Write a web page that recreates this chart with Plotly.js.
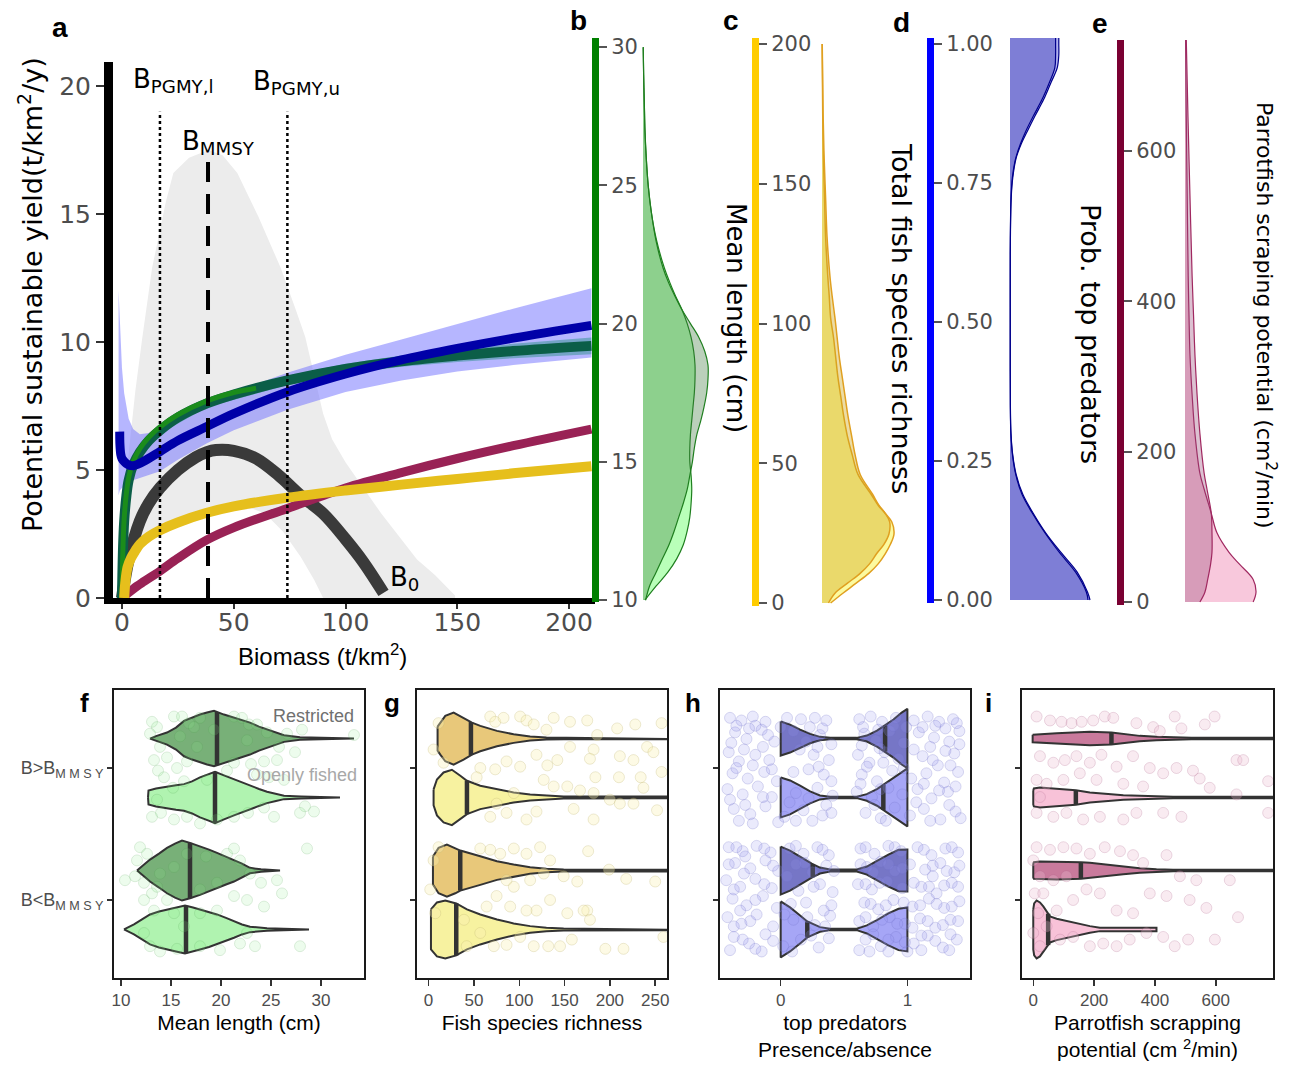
<!DOCTYPE html>
<html><head><meta charset="utf-8">
<script src="https://cdn.plot.ly/plotly-3.0.1.min.js"></script>
<style>html,body{margin:0;padding:0;background:#fff}#chart{width:1293px;height:1072px}</style>
</head><body><div id="chart"></div>
<script>
// ---------------- Panel a data (biomass vs potential yield) ----------------
const grayUpX=[-0.5,0.5,2.2,4,6,9,13.5,19.7,23,30,38.7,45,51.6,61,71,78,82,86,90,94,100,108,116,124,132,140,149];
const grayUpY=[0,2.5,5,6.6,8.1,10.1,12.9,15.5,16.6,17.2,17.5,17.3,16.6,14.9,12.9,11.2,10.2,8.7,7.2,6.2,5.3,4.3,3.3,2.4,1.5,0.9,0.1];
const grayLoX=[-0.5,3,8,17,30,45,58,64,72,80,86,90,149];
const grayLoY=[0,1.4,2.1,2.6,3.0,3.35,3.5,3.3,2.6,1.6,0.7,0,0];
const blueBandX=[-1.5,-1,0,1,2,3,5,8,12,17,25,38,50,74,100,125,150,175,210];
const blueUp=[12,11,9.0,8.0,7.4,7.0,6.6,6.4,6.45,6.65,7.0,7.6,8.05,8.8,9.5,10.1,10.7,11.3,12.1];
const blueLo=[4.0,4.2,4.3,4.35,4.4,4.5,4.6,4.7,4.8,4.95,5.4,6.05,6.55,7.35,8.05,8.5,8.85,9.1,9.4];
const blueX=[-1,-0.9,-0.5,0,1,2,3.5,5,7,10,17,25,38,50,74,100,125,150,175,210];
const blueY=[6.5,6.0,5.6,5.45,5.33,5.25,5.18,5.17,5.22,5.35,5.72,6.15,6.7,7.2,8.05,8.75,9.3,9.75,10.15,10.65];
const tealX=[0,0.5,1,2,3,5,8,12,17,25,38,50,74,100,125,150,175,210];
const tealY=[0,2.0,3.0,4.0,4.6,5.2,5.7,6.15,6.55,7.05,7.6,7.95,8.5,8.95,9.25,9.47,9.65,9.85];
const tealBandX=[17,38,74,100,125,150,175,210];
const tealUp=[6.68,7.75,8.68,9.15,9.47,9.72,9.93,10.18];
const tealLo=[6.42,7.45,8.32,8.75,9.03,9.22,9.37,9.52];
const greenX=[0,0.5,1,2,3,5,8,12,17,25,38,50,60];
const greenY=[0,2.1,3.1,4.1,4.7,5.32,5.83,6.28,6.68,7.16,7.7,8.03,8.2];
const blackX=[0,3,8,12,17,25,33,38,42,50,60,70,80,90,100,108,117];
const blackY=[0,1.5,3.0,3.7,4.3,5.0,5.5,5.7,5.78,5.75,5.45,4.8,4.0,3.3,2.3,1.4,0.2];
const goldX=[1,1.5,2.5,4,6,8,12,17,25,38,50,74,100,125,150,175,210];
const goldY=[0,0.6,1.2,1.55,1.85,2.1,2.4,2.65,2.95,3.33,3.58,3.92,4.2,4.43,4.65,4.87,5.15];
const maroonX=[0,5,10,17,25,38,50,74,100,125,150,175,210];
const maroonY=[0,0.35,0.65,1.05,1.55,2.27,2.75,3.5,4.3,4.9,5.45,5.95,6.6];
const B_PGMY_l=17, B_MMSY=38.5, B_PGMY_u=74, topDotted=19, topDashed=17.3;

// ---------------- Panels b-e marginal densities ----------------
const bVals=[10,10.5,11,11.5,12,12.5,13,13.5,14,14.5,15,15.5,16,16.5,17,17.5,18,18.5,19,19.5,20,20.5,21,21.5,22,23,24,25,26,27,28,29,30];
const bRestr=[0.04,0.1,0.2,0.3,0.4,0.48,0.55,0.62,0.68,0.72,0.76,0.79,0.83,0.89,0.94,0.98,1.0,1.0,0.95,0.86,0.73,0.6,0.49,0.39,0.31,0.2,0.13,0.08,0.05,0.03,0.02,0.01,0.003];
const bOpen=[0.03,0.2,0.38,0.52,0.62,0.68,0.72,0.74,0.75,0.74,0.72,0.72,0.73,0.75,0.77,0.79,0.8,0.8,0.78,0.74,0.68,0.6,0.5,0.41,0.33,0.21,0.13,0.08,0.05,0.03,0.02,0.01,0.003];
const cVals=[0,3.5,7,10.6,14,17.7,21,24.7,29,32,35,39,46,53,60,67,74,81,88,95,102,110,117,131,145,159,175,200];
const cRestr=[0.09,0.18,0.35,0.53,0.66,0.76,0.86,0.93,0.94,0.88,0.79,0.7,0.53,0.46,0.41,0.36,0.32,0.28,0.24,0.21,0.18,0.14,0.11,0.07,0.05,0.03,0.015,0.003];
const cOpen=[0.12,0.29,0.47,0.65,0.78,0.88,0.95,1.0,0.97,0.88,0.78,0.68,0.5,0.42,0.35,0.3,0.26,0.22,0.19,0.16,0.12,0.1,0.08,0.05,0.035,0.02,0.01,0.002];
const dVals=[0,0.014,0.05,0.085,0.12,0.156,0.19,0.227,0.26,0.30,0.35,0.42,0.5,0.58,0.65,0.723,0.76,0.794,0.82,0.844,0.87,0.90,0.93,0.957,0.98,1.0,1.012];
const dRestr=[1.0,0.97,0.84,0.64,0.45,0.29,0.16,0.075,0.035,0.012,0.005,0.003,0.003,0.003,0.005,0.015,0.035,0.075,0.14,0.22,0.31,0.42,0.51,0.59,0.61,0.61,0.61];
const dOpen=[0.975,0.955,0.82,0.62,0.44,0.28,0.15,0.07,0.032,0.011,0.004,0.003,0.003,0.003,0.004,0.013,0.03,0.07,0.13,0.2,0.29,0.4,0.49,0.56,0.57,0.57,0.57];
const eVals=[0,13,30,50,66,92,118,150,171,224,276,329,382,434,540,645,752];
const eRestr=[0.21,0.28,0.32,0.36,0.38,0.38,0.37,0.31,0.27,0.21,0.17,0.14,0.12,0.1,0.07,0.042,0.017];
const eOpen=[0.96,1.0,0.96,0.77,0.62,0.45,0.37,0.27,0.21,0.14,0.1,0.07,0.056,0.045,0.031,0.018,0.008];

// ---------------- Panels f-i violins (value, half-width density) ----------------
const categories=['B<B_MMSY','B>B_MMSY'];
const fViol={
 rHi:{v:[12.9,13.5,14.6,15.5,16.3,17.1,17.9,18.6,19.3,20.3,21.3,22.1,22.9,23.8,24.6,25.5,26.3,27.9,30,33.3],d:[0,2.5,6,11,17.7,21,24,26,27.7,24,21,18.5,16,12,9.3,6,3.3,1.3,0.8,0],med:19.6},
 oHi:{v:[12.7,12.75,13.5,14.6,15.5,16.3,17.1,17.9,18.7,19.4,20.3,21.3,22.1,22.9,23.8,24.6,25.5,26.3,28,31.9],d:[0,7,9,11,12.3,13.3,16,20,23,25.7,22,18,15,11.7,8.5,5.7,3.5,1.7,1,0],med:19.4},
 rLo:{v:[11.6,12.2,12.9,13.8,14.6,15.4,16.1,16.9,17.9,18.8,19.6,20.5,21.3,22.1,22.9,24,25.9],d:[0,5,11,17,22.7,27,30,27.7,24.3,21,17.7,14,11,7,2.7,1.2,0],med:16.9},
 oLo:{v:[10.3,11.3,12.1,12.9,13.8,14.6,15.5,16.4,17.2,17.9,18.8,19.6,20.5,21.3,22.1,22.9,24.6,28.8],d:[0,5,10,15,18,20,22,24,22,20,17.5,15,11.5,8.3,5,2.7,1.3,0],med:16.5}
};
const gViol={
 rHi:{v:[9.9,12.9,18.4,27.6,38.6,47.8,57,75.4,93.8,112,130,149,300],d:[12,16,22.7,26,21,16,12.7,7.7,4.3,2,1,0.8,0.8],med:46.7},
 oHi:{v:[5.5,9.2,16.5,25.7,35,42.3,57,75.4,93.8,112,130,149,300],d:[8,18,25,27.7,21.7,16.7,11.7,8.3,5,3,1.7,1,0.8],med:42.3},
 rLo:{v:[4.8,11,20.2,29.4,35,57,75.4,93.8,112,130,149,300],d:[14,22.7,26,22.7,20,14.3,9.3,6,3.3,1.7,1,0.8],med:34.9},
 oLo:{v:[2.6,9.2,18.4,30.5,42.3,57,75.4,93.8,112,130,149,300],d:[20,27,29,26,20,15,10,6,3.3,1.7,1,0.8],med:30.5}
};
const hViol={
 rHi:{v:[0,0.074,0.153,0.232,0.31,0.39,0.6,0.68,0.76,0.824,0.89,0.955,1.0],d:[17,14,9,4.7,1.7,0.7,0.7,3,8,13,19,26,29.7],med:0.824},
 oHi:{v:[0,0.074,0.153,0.232,0.31,0.39,0.6,0.68,0.76,0.81,0.89,0.955,1.0],d:[20,17,11.7,6,2,0.7,0.7,3.3,8.3,12.5,19,25,29],med:0.81},
 rLo:{v:[0,0.074,0.153,0.245,0.31,0.39,0.6,0.68,0.76,0.85,0.93,1.0],d:[24,20,14,7,3,1,1,4,9.7,16,20.7,21],med:0.253},
 oLo:{v:[0,0.074,0.153,0.21,0.31,0.39,0.6,0.68,0.76,0.85,0.93,1.0],d:[28,22,14,8,2.3,0.7,0.7,4,9.3,16,20.7,22],med:0.21}
};
const iViol={
 rHi:{v:[-2,22,77,131,186,257,296,350,405,460,520,800],d:[3.7,4.3,5.3,6,6.7,6,4.3,2.7,1.7,1,0.8,0.8],med:257},
 oHi:{v:[0,2,22,77,140,186,241,296,350,405,460,800],d:[7,9,10,9,7.3,5,3.3,2.3,1.7,1,0.8,0.8],med:140},
 rLo:{v:[0,2,22,77,157,186,241,296,350,405,460,800],d:[7,8.3,9,9,8.3,7.7,5.7,3.7,2.3,1.3,0.8,0.8],med:156.5},
 oLo:{v:[0,3,11,22,33,55,77,131,186,219,405],d:[20,26,29,27,23,13,10.7,6.7,3.3,1.7,1.7],med:49}
};
// jittered observations [value, category position]
const fPts=[[13.1,1.35],[13.6,1.31],[12.9,1.26],[15.3,1.39],[16.1,1.39],[16.8,1.34],[17.9,1.38],[21.3,1.39],[22.1,1.38],[22.8,1.33],[23.6,1.33],[24.6,1.27],[26.6,1.26],[28.1,1.29],[33.3,1.25],[27.4,1.12],[25.8,1.16],[13.9,1.16],[14.6,1.08],[13.3,1.06],[13.7,0.98],[14.3,0.93],[15.6,1.0],[16.6,1.05],[21.3,1.04],[23.0,1.03],[24.3,1.05],[25.6,1.06],[23.6,0.95],[24.8,0.93],[26.3,0.91],[13.6,0.76],[13.1,0.63],[14.0,0.66],[15.3,0.61],[16.6,0.63],[21.3,0.63],[22.7,0.66],[24.3,0.7],[25.3,0.63],[28.4,0.71],[29.3,0.67],[27.9,0.66],[18.6,0.91],[20.6,0.98],[16.3,0.9],[15.2,0.85],[17.9,0.58],[19.6,0.61],[17.3,1.31],[19.3,1.29],[15.9,1.24],[22.6,1.21],[17.6,1.16],
 [11.9,0.40],[12.6,0.35],[11.6,0.30],[10.4,0.15],[11.4,0.18],[12.3,0.13],[13.1,0.05],[13.6,0.10],[12.3,0.0],[13.3,-0.08],[14.6,0.0],[15.3,-0.1],[17.9,0.08],[19.6,0.13],[21.3,0.39],[21.9,0.30],[22.9,0.2],[24.0,0.13],[25.6,0.15],[26.1,0.05],[28.6,0.39],[24.3,-0.05],[22.6,0.0],[21.3,0.03],[19.6,-0.08],[12.3,-0.25],[12.9,-0.35],[13.9,-0.39],[15.6,-0.37],[17.9,-0.35],[19.9,-0.38],[21.9,-0.33],[23.4,-0.35],[27.9,-0.35],[22.6,-0.25],[16.6,0.35],[15.3,0.25],[18.5,0.33],[20.6,0.35],[17.9,-0.1],[16.3,-0.2],[13.9,0.2]];
const gPts=[[11,1.34],[5.5,1.14],[16.5,1.04],[68,1.39],[73.5,1.35],[82.7,1.38],[101,1.39],[108,1.36],[116,1.33],[130,1.29],[138,1.38],[156,1.35],[175,1.36],[186,1.25],[208,1.30],[228,1.33],[257,1.34],[241,1.16],[248,1.12],[226,1.06],[211,1.09],[182,1.14],[178,1.07],[156,1.16],[142,1.06],[131,1.02],[119,1.1],[101,1.01],[86,1.05],[73.5,0.99],[57,1.0],[53,0.93],[184,0.93],[210,0.93],[234,0.93],[257,0.97],[138,0.86],[153,0.86],[167,0.83],[182,0.81],[200,0.76],[211,0.73],[226,0.73],[237,0.85],[252,0.68],[119,0.67],[108,0.61],[86,0.66],[68,0.63],[160,0.69],[182,0.61],[94,0.81],[75,0.73],[127,0.91],
 [11,0.40],[5.5,0.3],[1.8,0.08],[7.4,-0.1],[57,0.39],[68,0.38],[79,0.35],[94,0.39],[108,0.35],[123,0.40],[134,0.30],[127,0.2],[112,0.15],[94,0.1],[86,0.15],[149,0.18],[164,0.14],[176,0.37],[199,0.23],[218,0.16],[250,0.14],[175,-0.08],[153,-0.1],[134,0.0],[119,-0.08],[108,-0.08],[90,-0.05],[75,0.03],[64,-0.05],[57,-0.25],[72,-0.35],[86,-0.34],[101,-0.28],[116,-0.35],[132,-0.35],[145,-0.35],[158,-0.3],[171,-0.08],[178,-0.15],[195,-0.37],[215,-0.37],[259,-0.28],[39,-0.15],[42,-0.35]];
const hPts=[[-0.40,1.38],[-0.31,1.36],[-0.22,1.39],[-0.12,1.35],[0.05,1.38],[0.16,1.37],[0.27,1.38],[0.36,1.36],[-0.36,1.27],[-0.27,1.22],[-0.15,1.29],[-0.05,1.20],[0.31,1.25],[0.40,1.18],[-0.41,1.12],[-0.33,1.05],[-0.20,1.10],[-0.09,1.06],[0.38,1.06],[0.26,1.10],[-0.38,0.96],[-0.26,0.92],[-0.13,0.97],[-0.03,0.90],[0.34,0.95],[0.22,0.99],[-0.42,0.84],[-0.30,0.80],[-0.18,0.86],[-0.07,0.78],[0.12,0.81],[0.29,0.85],[0.41,0.79],[-0.37,0.69],[-0.24,0.65],[-0.12,0.71],[0.03,0.63],[0.18,0.68],[0.33,0.64],[-0.33,0.60],[-0.02,0.59],[0.25,0.60],[0.40,0.66],[-0.20,1.32],[0.10,1.28],[0.20,1.20],
 [-0.35,1.32],[-0.25,1.30],[-0.10,1.25],[0.00,1.31],[0.23,1.31],[0.33,1.30],[-0.39,1.19],[-0.29,1.14],[-0.14,1.16],[0.15,1.14],[0.29,1.16],[-0.35,1.00],[-0.22,1.02],[-0.07,0.99],[0.10,0.97],[0.30,1.01],[0.40,0.90],[-0.40,0.76],[-0.28,0.72],[-0.14,0.78],[0.07,0.74],[0.22,0.77],[0.36,0.72],[-0.22,0.58],[0.12,0.60],
 [0.62,1.37],[0.71,1.39],[0.80,1.35],[0.91,1.38],[1.05,1.36],[1.16,1.39],[1.25,1.35],[1.36,1.37],[0.66,1.26],[0.75,1.21],[0.86,1.28],[0.97,1.19],[1.09,1.27],[1.21,1.23],[1.33,1.20],[1.41,1.28],[0.61,1.10],[0.70,1.04],[0.82,1.12],[0.93,1.07],[1.12,1.09],[1.24,1.02],[1.37,1.11],[0.64,0.95],[0.76,0.90],[0.88,0.98],[1.03,0.92],[1.15,0.96],[1.29,0.89],[1.40,0.97],[0.60,0.82],[0.72,0.78],[0.85,0.85],[0.96,0.80],[1.08,0.84],[1.19,0.77],[1.32,0.82],[0.67,0.66],[0.79,0.62],[0.90,0.70],[1.02,0.64],[1.13,0.69],[1.26,0.61],[1.38,0.67],[1.22,1.32],[0.99,1.31],
 [0.65,1.31],[0.77,1.29],[0.89,1.32],[1.12,1.31],[1.30,1.30],[1.39,1.34],[0.64,1.17],[0.78,1.15],[1.05,1.14],[1.18,1.16],[1.30,1.13],[1.41,1.18],[0.68,1.01],[0.81,1.04],[0.97,1.00],[1.20,1.06],[1.34,1.02],[0.63,0.88],[0.79,0.84],[1.13,0.88],[1.25,0.83],[1.38,0.86],[0.74,0.72],[1.07,0.74],[1.33,0.72],[0.83,0.60],[1.18,0.60],[1.42,0.62],
 [-0.41,0.40],[-0.30,0.37],[-0.19,0.41],[-0.08,0.36],[0.07,0.39],[0.18,0.35],[0.29,0.40],[0.38,0.34],[-0.36,0.28],[-0.24,0.24],[-0.12,0.30],[-0.02,0.22],[0.12,0.27],[0.25,0.21],[0.36,0.26],[-0.43,0.15],[-0.32,0.10],[-0.20,0.16],[-0.07,0.09],[0.31,0.12],[0.41,0.06],[-0.38,0.01],[-0.27,-0.04],[-0.14,0.03],[-0.03,-0.06],[0.20,-0.02],[0.34,-0.08],[-0.42,-0.13],[-0.31,-0.18],[-0.19,-0.11],[-0.06,-0.20],[0.10,-0.15],[0.27,-0.19],[0.39,-0.12],[-0.37,-0.28],[-0.25,-0.33],[-0.12,-0.26],[0.02,-0.35],[0.16,-0.30],[0.30,-0.36],[-0.40,-0.38],[-0.15,-0.39],[0.38,-0.29],[-0.28,0.33],[0.05,0.18],
 [-0.35,0.40],[-0.13,0.39],[0.12,0.41],[0.33,0.38],[-0.41,0.27],[-0.29,0.20],[-0.06,0.26],[0.19,0.28],[0.42,0.22],[-0.37,0.08],[-0.13,0.12],[0.14,0.07],[0.26,0.10],[-0.32,-0.08],[-0.20,0.00],[0.08,-0.03],[0.40,-0.04],[-0.37,-0.20],[-0.24,-0.16],[0.03,-0.11],[0.21,-0.13],[-0.30,-0.30],[-0.06,-0.31],[0.24,-0.27],[0.35,-0.20],[-0.20,-0.37],[0.09,-0.39],
 [0.63,0.39],[0.74,0.35],[0.85,0.41],[0.95,0.37],[1.08,0.40],[1.19,0.34],[1.30,0.39],[1.40,0.36],[0.68,0.25],[0.79,0.29],[0.90,0.22],[1.02,0.27],[1.14,0.23],[1.26,0.28],[1.37,0.21],[0.61,0.12],[0.72,0.08],[0.84,0.14],[1.11,0.10],[1.23,0.05],[1.35,0.13],[0.66,-0.02],[0.77,-0.07],[0.89,0.00],[1.04,-0.05],[1.17,0.01],[1.29,-0.06],[1.41,-0.01],[0.62,-0.16],[0.73,-0.20],[0.86,-0.13],[0.98,-0.18],[1.10,-0.14],[1.22,-0.21],[1.34,-0.15],[0.67,-0.30],[0.79,-0.35],[0.91,-0.28],[1.05,-0.33],[1.16,-0.27],[1.28,-0.36],[1.39,-0.30],[0.70,-0.39],[1.00,-0.39],[1.20,0.18],
 [0.67,0.40],[0.90,0.40],[1.13,0.38],[1.35,0.40],[0.63,0.27],[0.73,0.21],[0.85,0.27],[0.96,0.24],[1.20,0.26],[1.31,0.22],[1.41,0.26],[0.67,0.12],[0.78,0.13],[0.96,0.09],[1.05,0.13],[1.17,0.10],[1.29,0.11],[1.40,0.10],[0.71,-0.03],[0.83,-0.04],[0.97,-0.02],[1.10,-0.04],[1.23,-0.03],[1.35,-0.05],[0.67,-0.13],[0.80,-0.15],[0.92,-0.18],[1.04,-0.21],[1.16,-0.16],[1.28,-0.19],[1.40,-0.16],[0.73,-0.26],[0.85,-0.30],[0.98,-0.32],[1.11,-0.27],[1.22,-0.31],[1.34,-0.26],[0.62,-0.38],[0.85,-0.39],[1.11,-0.38],[1.33,-0.38]];
const iPts=[[11,1.39],[55,1.36],[93,1.35],[126,1.34],[159,1.35],[197,1.36],[235,1.39],[263,1.38],[339,1.34],[394,1.31],[416,1.28],[465,1.39],[487,1.30],[564,1.33],[596,1.39],[668,1.06],[690,1.06],[22,1.09],[66,1.04],[104,1.06],[142,1.09],[186,1.04],[224,1.10],[274,1.01],[328,1.09],[383,1.0],[427,0.96],[471,1.0],[525,0.98],[547,0.92],[11,0.91],[44,0.88],[99,0.91],[153,0.96],[208,0.91],[296,0.88],[361,0.86],[427,0.66],[487,0.63],[580,0.85],[668,0.80],[772,0.90],[772,0.66],[11,0.66],[66,0.63],[109,0.66],[164,0.61],[219,0.63],[296,0.61],[339,0.66],[22,0.78],
 [11,0.40],[0,0.30],[22,0.18],[5,0.05],[16,-0.10],[0,-0.25],[22,-0.35],[55,0.38],[99,0.40],[142,0.39],[186,0.35],[235,0.40],[285,0.37],[328,0.34],[361,0.28],[438,0.34],[482,0.18],[536,0.15],[646,0.15],[673,-0.13],[569,-0.06],[514,0.0],[438,0.03],[383,0.05],[328,-0.10],[274,-0.08],[219,0.05],[175,0.08],[131,0.0],[77,-0.08],[44,-0.20],[88,-0.30],[131,-0.28],[186,-0.35],[230,-0.33],[274,-0.35],[317,-0.30],[372,-0.25],[427,-0.28],[465,-0.35],[509,-0.30],[597,-0.30],[33,0.05],[66,0.15],[109,0.18]];

// ---------------- build ----------------
const W=1293,H=1072;
const fx=p=>p/W, fy=p=>1-p/H;
const rev=a=>a.slice().reverse();
const T=[];
function add(o){o.type='scatter';o.hoverinfo='skip';if(!o.mode)o.mode='lines';T.push(o);}
const A={xaxis:'x',yaxis:'y'};
// panel a
add({...A,x:[...grayUpX,...rev(grayLoX)],y:[...grayUpY,...rev(grayLoY)],fill:'toself',fillcolor:'#ececec',line:{width:0}});
add({...A,x:[...blueBandX,...rev(blueBandX)],y:[...blueUp,...rev(blueLo)],fill:'toself',fillcolor:'rgba(110,110,255,0.5)',line:{width:0}});
add({...A,x:[...tealBandX,...rev(tealBandX)],y:[...tealUp,...rev(tealLo)],fill:'toself',fillcolor:'rgba(70,150,160,0.6)',line:{width:0}});
add({...A,x:blackX,y:blackY,line:{color:'#3a3a3a',width:12,shape:'spline'}});
add({...A,x:tealX,y:tealY,line:{color:'#0b5e48',width:10,shape:'spline'}});
add({...A,x:greenX,y:greenY,line:{color:'#1b8c1b',width:5,shape:'spline'}});
add({...A,x:blueX,y:blueY,line:{color:'#0000a8',width:9,shape:'spline'}});
add({...A,x:maroonX,y:maroonY,line:{color:'#992255',width:9,shape:'spline'}});
add({...A,x:goldX,y:goldY,line:{color:'#e6bf1c',width:10,shape:'spline'}});
add({...A,x:[B_PGMY_l,B_PGMY_l],y:[0,topDotted],line:{color:'#000',width:2.5,dash:'dot'}});
add({...A,x:[B_PGMY_u,B_PGMY_u],y:[0,topDotted],line:{color:'#000',width:2.5,dash:'dot'}});
add({...A,x:[B_MMSY,B_MMSY],y:[0,topDashed],line:{color:'#000',width:4,dash:'20px,12px'}});

// densities b-e
function dens(ax,vals,d1,d2,c1,c2,lc,lw){
  const o={xaxis:'x'+ax,yaxis:'y'+ax};
  add({...o,x:d2,y:vals,fill:'tozerox',fillcolor:c2,line:{color:lc,width:lw,shape:'spline'}});
  add({...o,x:d1,y:vals,fill:'tozerox',fillcolor:c1,line:{color:lc,width:lw,shape:'spline'}});
}
dens(2,bVals,bRestr,bOpen,'rgba(60,120,60,0.35)','rgba(100,255,100,0.45)','#1f7f1f',1.2);
dens(3,cVals,cRestr,cOpen,'rgba(207,167,30,0.4)','rgba(250,245,80,0.55)','#e0a020',1.5);
dens(4,dVals,dOpen,dRestr,'rgba(60,60,180,0.43)','rgba(100,100,225,0.5)','#00008b',1.2);
dens(5,eVals,eRestr,eOpen,'rgba(150,66,114,0.33)','rgba(241,145,185,0.5)','#a02860',1.2);

// violins f-i
const SC=1/132, OFF=0.223;
function interp(v,d,m){for(let i=0;i<v.length-1;i++){if(m>=v[i]&&m<=v[i+1]){const t=(m-v[i])/(v[i+1]-v[i]);return d[i]+t*(d[i+1]-d[i]);}}return 0;}
function violin(ax,vi,center,fill){
  const o={xaxis:'x'+ax,yaxis:'y'+ax};
  const up=vi.v.map((x,i)=>center+vi.d[i]*SC), lo=vi.v.map((x,i)=>center-vi.d[i]*SC);
  const xs=[...vi.v,...rev(vi.v),vi.v[0]], ys=[...up,...rev(lo),up[0]];
  add({...o,x:xs,y:ys,fill:'toself',fillcolor:fill,line:{color:'#333',width:2}});
  const hm=interp(vi.v,vi.d,vi.med)*SC;
  add({...o,x:[vi.med,vi.med],y:[center-hm,center+hm],line:{color:'#333',width:4.5}});
}
function panel(ax,V,cR,cO,pts,pf,pl){
  violin(ax,V.rHi,1+OFF,cR);violin(ax,V.oHi,1-OFF,cO);
  violin(ax,V.rLo,0+OFF,cR);violin(ax,V.oLo,0-OFF,cO);
  add({xaxis:'x'+ax,yaxis:'y'+ax,mode:'markers',x:pts.map(p=>p[0]),y:pts.map(p=>p[1]),marker:{size:11,color:pf,line:{color:pl,width:1}}});
}
panel(6,fViol,'#78b078','#b0f3b0',fPts,'rgba(144,238,144,0.16)','rgba(70,150,70,0.16)');
panel(7,gViol,'#e8c87a','#f7f2a0',gPts,'rgba(250,240,180,0.35)','rgba(190,180,110,0.28)');
panel(8,hViol,'#7676c6','#a6a6f6',hPts,'rgba(150,150,240,0.2)','rgba(110,110,200,0.25)');
panel(9,iViol,'#c97a9c','#f8c2d8',iPts,'rgba(235,190,210,0.3)','rgba(170,90,130,0.22)');

// ---------------- layout ----------------
const GOTH='DejaVu Sans', ARI='Liberation Sans';
const tf={family:GOTH,size:21,color:'#4d4d4d'};
function dX(d0,d1,base,unit){return {domain:[fx(d0),fx(d1)],range:[(d0-base)/unit,(d1-base)/unit],visible:false,fixedrange:true};}
function dY(top,bot,range,color,tv,linePx,fmt){return {domain:[fy(bot),fy(top)],range:range,anchor:'free',position:fx(linePx),side:'right',showline:true,linecolor:color,linewidth:7,ticks:'outside',ticklen:8,tickwidth:2,tickcolor:'#555',tickvals:tv,tickformat:fmt||'',tickfont:tf,showgrid:false,zeroline:false};}
const bx={showline:true,linecolor:'#1a1a1a',linewidth:2,mirror:true,ticks:'outside',ticklen:6,tickwidth:1.5,tickcolor:'#333',showgrid:false,zeroline:false,tickfont:{family:ARI,size:17,color:'#4d4d4d'}};
const byBase={...bx,domain:[fy(978),fy(690)],range:[-0.591,1.591],tickvals:[0,1],ticklen:5};
const mnr=v=>({tickvals:v,ticks:'inside',ticklen:3,tickwidth:3,tickcolor:'#fff',showgrid:false});
const ttl=t=>({text:t,font:{family:ARI,size:21,color:'#000'},standoff:6});
const layout={
 width:W,height:H,margin:{l:0,r:0,t:0,b:0},paper_bgcolor:'#fff',plot_bgcolor:'rgba(0,0,0,0)',showlegend:false,
 xaxis:{domain:[fx(113),fx(595)],range:[-4,211.6],anchor:'y',showline:true,linecolor:'#000',linewidth:6,ticks:'outside',ticklen:5,tickwidth:2,tickcolor:'#333',tickvals:[0,50,100,150,200],ticklabelstandoff:-8,tickfont:{family:GOTH,size:25,color:'#4d4d4d'},showgrid:false,zeroline:false},
 yaxis:{domain:[fy(598),fy(62)],range:[0,20.94],anchor:'x',showline:true,linecolor:'#000',linewidth:9,ticks:'outside',ticklen:8,tickwidth:2,tickcolor:'#333',tickvals:[0,5,10,15,20],tickfont:{family:GOTH,size:25,color:'#4d4d4d'},showgrid:false,zeroline:false},
 xaxis2:dX(595,730,643,65), yaxis2:dY(38,602,[9.93,30.33],'#008000',[10,15,20,25,30],595),
 xaxis3:dX(755,905,822,72), yaxis3:dY(38,606,[-1.07,202.15],'#ffcc00',[0,50,100,150,200],755),
 xaxis4:dX(930,1100,1010,80), yaxis4:dY(38,603,[-0.0054,1.0108],'#0000ff',[0,0.25,0.5,0.75,1],930,'.2f'),
 xaxis5:dX(1120,1265,1185,71), yaxis5:dY(40,605,[-3.99,747.6],'#7a0032',[0,200,400,600],1120),
 xaxis6:{...bx,domain:[fx(114),fx(364)],range:[9.3,34.3],anchor:'y6',tickvals:[10,15,20,25,30],minor:mnr([12.5,17.5,22.5,27.5,32.5]),title:ttl('Mean length (cm)')},
 yaxis6:{...byBase,anchor:'x6',ticktext:['B&lt;B<sub>M M S Y</sub>','B&gt;B<sub>M M S Y</sub>'],tickfont:{family:ARI,size:18,color:'#4d4d4d'}},
 xaxis7:{...bx,domain:[fx(417),fx(667)],range:[-12.8,263],anchor:'y7',tickvals:[0,50,100,150,200,250],minor:mnr([25,75,125,175,225]),title:ttl('Fish species richness')},
 yaxis7:{...byBase,anchor:'x7',showticklabels:false},
 xaxis8:{...bx,domain:[fx(720),fx(970)],range:[-0.479,1.494],anchor:'y8',tickvals:[0,1],minor:mnr([0.5]),title:ttl('top predators<br>Presence/absence')},
 yaxis8:{...byBase,anchor:'x8',showticklabels:false},
 xaxis9:{...bx,domain:[fx(1022),fx(1273)],range:[-37,788],anchor:'y9',tickvals:[0,200,400,600],minor:mnr([100,300,500,700]),title:ttl('Parrotfish scrapping<br>potential (cm <sup>2</sup>/min)')},
 yaxis9:{...byBase,anchor:'x9',showticklabels:false},
 annotations:[]
};
const ann=(t,x,y,o)=>layout.annotations.push(Object.assign({text:t,x:fx(x),y:fy(y),xref:'paper',yref:'paper',showarrow:false,xanchor:'center',yanchor:'middle',font:{family:GOTH,size:26,color:'#000'}},o||{}));
const lab={family:ARI,size:28,color:'#000',weight:'bold'};
[['a',60,27],['b',578,20],['c',731,20],['d',901,22],['e',1100,24]].forEach(p=>ann('<b>'+p[0]+'</b>',p[1],p[2],{font:lab}));
[['f',84,703],['g',392,703],['h',693,703],['i',988,703]].forEach(p=>ann('<b>'+p[0]+'</b>',p[1],p[2],{font:{...lab,size:26}}));
ann('Potential sustainable yield(t/km<sup>2</sup>/y)',30,295,{textangle:-90,font:{family:GOTH,size:27,color:'#000'}});
ann('Biomass (t/km<sup>2</sup>)',322,655,{font:{family:ARI,size:24,color:'#000'}});
ann('B<sub>PGMY,l</sub>',173,80);
ann('B<sub>PGMY,u</sub>',296,82);
ann('B<sub>MMSY</sub>',218,142);
ann('B<sub>0</sub>',404,578);
ann('Mean length (cm)',736,318,{textangle:90,font:{family:GOTH,size:26,color:'#000'}});
ann('Total fish species richness',901,318,{textangle:90,font:{family:GOTH,size:27,color:'#000'}});
ann('Prob. top predators',1091,334,{textangle:90,font:{family:GOTH,size:27,color:'#000'}});
ann('Parrotfish scraping potential (cm<sup>2</sup>/min)',1266,315,{textangle:90,font:{family:GOTH,size:22,color:'#000'}});
ann('Restricted',356,716,{xanchor:'right',font:{family:ARI,size:18,color:'#707070'}});
ann('Openly fished',359,775,{xanchor:'right',font:{family:ARI,size:18,color:'#a8a8a8'}});

Plotly.newPlot('chart',T,layout,{staticPlot:true});
</script></body></html>
